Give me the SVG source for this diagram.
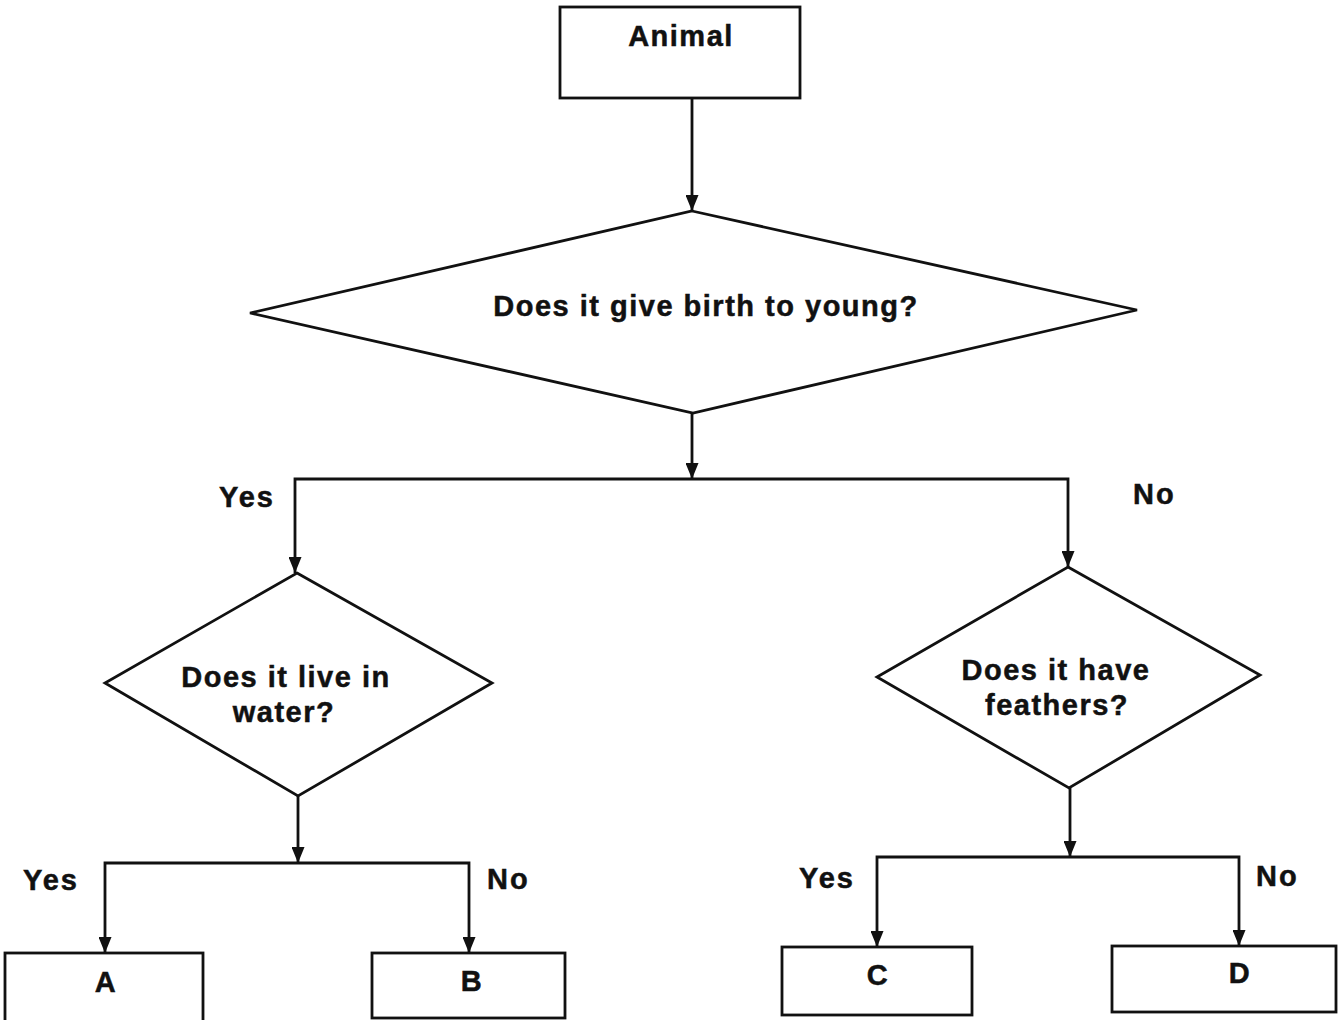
<svg xmlns="http://www.w3.org/2000/svg" width="1338" height="1020" viewBox="0 0 1338 1020">
<defs>
<marker id="arr" viewBox="0 0 16 13" refX="16" refY="6.5" markerWidth="16" markerHeight="13" markerUnits="userSpaceOnUse" orient="auto">
<path d="M0,0 L16,6.5 L0,13 z" fill="#111"/>
</marker>
</defs>
<style>
.shape{fill:#fff;stroke:#111;stroke-width:2.8}
.con{fill:none;stroke:#111;stroke-width:2.8;marker-end:url(#arr)}
.t{font-family:"Liberation Sans",Arial,sans-serif;font-weight:bold;font-size:29px;letter-spacing:1.5px;fill:#111;stroke:#111;stroke-width:0.5;text-anchor:middle}
.lbl{font-family:"Liberation Sans",Arial,sans-serif;font-weight:bold;font-size:29px;letter-spacing:2px;fill:#111;stroke:#111;stroke-width:0.5}
</style>
<rect width="1338" height="1020" fill="#fff"/>
<g id="connectors">
<path class="con" d="M692,98 V211"/>
<path class="con" d="M692,413 V479"/>
<path class="con" d="M692,479 H295 V573"/>
<path class="con" d="M692,479 H1068 V567"/>
<path class="con" d="M298,796 V863"/>
<path class="con" d="M298,863 H105 V953"/>
<path class="con" d="M298,863 H469 V953"/>
<path class="con" d="M1070,788 V857"/>
<path class="con" d="M1070,857 H877 V947"/>
<path class="con" d="M1070,857 H1239 V946"/>
</g>
<g id="labels">
<text class="lbl" x="219" y="507">Yes</text>
<text class="lbl" x="1133" y="504">No</text>
<text class="lbl" x="23" y="890">Yes</text>
<text class="lbl" x="487" y="889">No</text>
<text class="lbl" x="799" y="888">Yes</text>
<text class="lbl" x="1256" y="886">No</text>
</g>
<g id="node-animal">
<rect class="shape" x="560" y="7" width="240" height="91"/>
<text class="t" x="681" y="46">Animal</text>
</g>
<g id="node-birth">
<polygon class="shape" points="692,211 1137,310 693,413 250,313"/>
<text class="t" x="706" y="316">Does it give birth to young?</text>
</g>
<g id="node-water">
<polygon class="shape" points="297,573 492,683 298,796 105,683"/>
<text class="t" x="286" y="687">Does it live in</text>
<text class="t" x="284" y="722">water?</text>
</g>
<g id="node-feathers">
<polygon class="shape" points="1068,567 1260,675 1069,788 877,677"/>
<text class="t" x="1056" y="680">Does it have</text>
<text class="t" x="1057" y="715">feathers?</text>
</g>
<g id="node-a">
<rect class="shape" x="5" y="953" width="198" height="70"/>
<text class="t" x="106" y="992">A</text>
</g>
<g id="node-b">
<rect class="shape" x="372" y="953" width="193" height="65"/>
<text class="t" x="472" y="991">B</text>
</g>
<g id="node-c">
<rect class="shape" x="782" y="947" width="190" height="68"/>
<text class="t" x="878" y="985">C</text>
</g>
<g id="node-d">
<rect class="shape" x="1112" y="946" width="224" height="66"/>
<text class="t" x="1240" y="983">D</text>
</g>
</svg>
